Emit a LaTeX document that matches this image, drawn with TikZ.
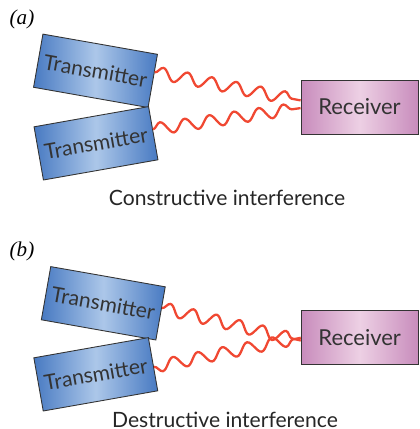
\documentclass[tikz,border=0pt]{standalone}
\usepackage{fontspec}
\setmainfont{Lato}
\newfontfamily\tagfont{Liberation Serif}
\usetikzlibrary{positioning, calc, decorations.pathmorphing}

\definecolor{txdark}{RGB}{72,122,194}
\definecolor{txlight}{RGB}{172,199,233}
\definecolor{rxdark}{RGB}{200,140,188}
\definecolor{rxlight}{RGB}{237,208,228}
\definecolor{wavered}{RGB}{240,72,50}

\begin{document}
\begin{tikzpicture}[
  x=0.02cm, y=-0.02cm,
  transmitter/.style={rectangle, draw=black!80, line width=0.5pt, minimum width=2.32cm,
    minimum height=1.08cm, left color=txdark, right color=txdark, middle color=txlight,
    font=\fontsize{12}{14}\selectfont, text=black!80},
  receiver/.style={rectangle, draw=black!80, line width=0.5pt, minimum width=2.34cm,
    minimum height=1.08cm, left color=rxdark, right color=rxdark, middle color=rxlight,
    font=\fontsize{12.5}{14}\selectfont, text=black!80},
  caption/.style={anchor=base, font=\fontsize{12}{14}\selectfont, text=black!85},
  tag/.style={font=\tagfont\itshape\fontsize{12}{14}\selectfont},
  wave/.style={draw=wavered, line width=1.3pt, decorate,
    decoration={snake, amplitude=0.12cm, segment length=#1}}
]
\useasboundingbox (0,0) rectangle (419,429);

% (a) constructive
\node (taga) [tag] at (22,19) {(a)};
\node (ta1) [transmitter, rotate=-10] at (95.5,70.8) {Transmitter};
\node (ta2) [transmitter, rotate=10] at (96,143.3) {Transmitter};
\node (ra) [receiver] at (359.5,107) {Receiver};
\node (capa) [caption] at (227,205) {Constructive interference};

\coordinate (sa1) at ($(ta1.north east)!0.34!(ta1.south east)$);
\coordinate (sa2) at ($(ta2.north east)!0.43!(ta2.south east)$);
\coordinate (ea1) at ($(ra.north west)!0.38!(ra.south west)$);
\coordinate (ea2) at ($(ra.north west)!0.52!(ra.south west)$);
\draw [wave=0.496cm] (sa1) -- (ea1);
\draw [wave=0.499cm] (sa2) -- (ea2);

% (b) destructive
\node (tagb) [tag] at (22,251) {(b)};
\node (tb1) [transmitter, rotate=-10] at (103.3,303.3) {Transmitter};
\node (tb2) [transmitter, rotate=10] at (95.8,374.3) {Transmitter};
\node (rb) [receiver] at (359.7,337.8) {Receiver};
\node (capb) [caption] at (225,427) {Destructive interference};

\coordinate (sb1) at ($(tb1.north east)!0.4!(tb1.south east)$);
\coordinate (sb2) at ($(tb2.north east)!0.55!(tb2.south east)$);
\coordinate (eb1) at ($(rb.north west)!0.55!(rb.south west)$);
\coordinate (eb2) at ($(rb.north west)!0.5!(rb.south west)$);
\draw [wave=0.475cm] (sb1) -- (eb1);
\draw [wave=0.504cm, decoration={mirror}] (sb2) -- (eb2);

\end{tikzpicture}
\end{document}
